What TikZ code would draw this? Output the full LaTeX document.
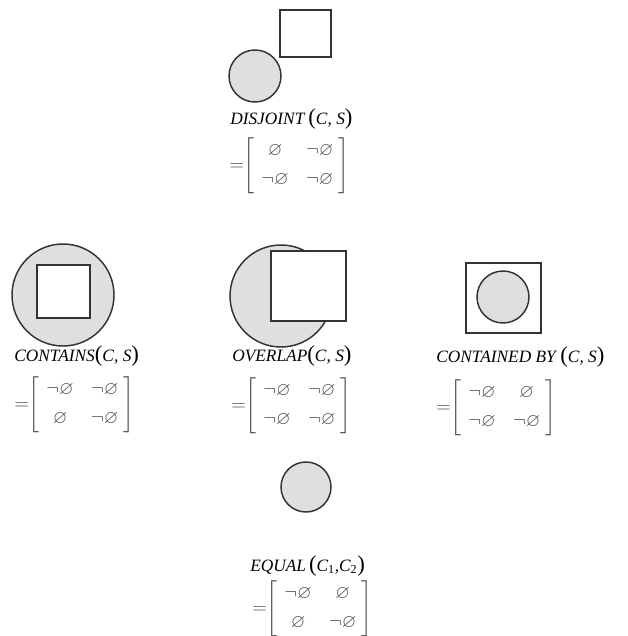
\documentclass[tikz,border=0pt]{standalone}
\usepackage{amsmath}
\usepackage{amssymb}
\usepackage{fontspec}
\setmainfont{Liberation Serif}
\usepackage{tikz}
\usetikzlibrary{positioning}

\newcommand{\setE}{\varnothing}
\newcommand{\setNE}{\neg\varnothing}
\newcommand{\bigpar}[1]{{\upshape\fontsize{17}{17}\selectfont #1}}
\newcommand{\relmat}[4]{$\mathord{=}\!\left[\begin{array}{@{\hspace{5pt}}c@{\hspace{13pt}}c@{\hspace{4pt}}}#1 & #2\\[6pt] #3 & #4\end{array}\right]$}

\begin{document}
\begin{tikzpicture}[x=0.75pt, y=-0.75pt,
			disc/.style={draw=black!80, circle, fill=gray!25, line width=1.1pt, inner sep=0pt, outer sep=0pt},
			sq/.style={draw=black!80, rectangle, fill=white, line width=1.5pt, inner sep=0pt, outer sep=0pt},
			caption/.style={anchor=base west, inner sep=0pt, font=\fontsize{13}{15}\selectfont\itshape},
			mat/.style={anchor=west, inner sep=0pt, text=black!70, font=\fontsize{14}{16}\selectfont}
			]
			\useasboundingbox[fill=white] (0,0) rectangle (628,636);
			
			% Linha 1: disjoint
			\node[sq, minimum width=38.25pt, minimum height=35.25pt] (sdisj) at (305,33) {};
			\node[disc, minimum size=39pt] (cdisj) at (255,76) {};
			\node[caption] (tdisj) at (230,124) {DISJOINT\/\,\bigpar{(}C\/, S\/\bigpar{)}};
			\node[mat] (mdisj) at (229,166) {\relmat{\setE}{\setNE}{\setNE}{\setNE}};
			
			% Linha 2: contains, overlap, contained by
			\node[disc, minimum size=76.5pt] (ccont) at (63,295) {};
			\node[sq, minimum size=39.75pt] (scont) at (63,291) {};
			\node[caption] (tcont) at (14,361) {CONTAINS\/\bigpar{(}C\/, S\/\bigpar{)}};
			\node[mat] (mcont) at (14,405) {\relmat{\setNE}{\setNE}{\setE}{\setNE}};
			
			\node[disc, minimum size=76.5pt] (cover) at (281,296) {};
			\node[sq, minimum width=56.25pt, minimum height=52.5pt] (sover) at (308.5,286) {};
			\node[caption] (tover) at (232,361) {OVERLAP\/\bigpar{(}C\/, S\/\bigpar{)}};
			\node[mat] (mover) at (231,406) {\relmat{\setNE}{\setNE}{\setNE}{\setNE}};
			
			\node[sq, minimum width=56.25pt, minimum height=52.5pt] (sinside) at (503,298) {};
			\node[disc, minimum size=39pt] (cinside) at (503,297) {};
			\node[caption] (tinside) at (436,362) {CONTAINED BY\/\,\bigpar{(}C\/, S\/\bigpar{)}};
			\node[mat] (minside) at (436,408) {\relmat{\setNE}{\setE}{\setNE}{\setNE}};
			
			% Linha 3: equal
			\node[disc, minimum size=37.5pt] (cequal) at (306,487) {};
			\node[caption] (tequal) at (250,571) {EQUAL\/\,\bigpar{(}C\textsubscript{\upshape 1},C\textsubscript{\upshape 2}\bigpar{)}};
			\node[mat] (mequal) at (252,609) {\relmat{\setNE}{\setE}{\setE}{\setNE}};
			
		\end{tikzpicture}
\end{document}
